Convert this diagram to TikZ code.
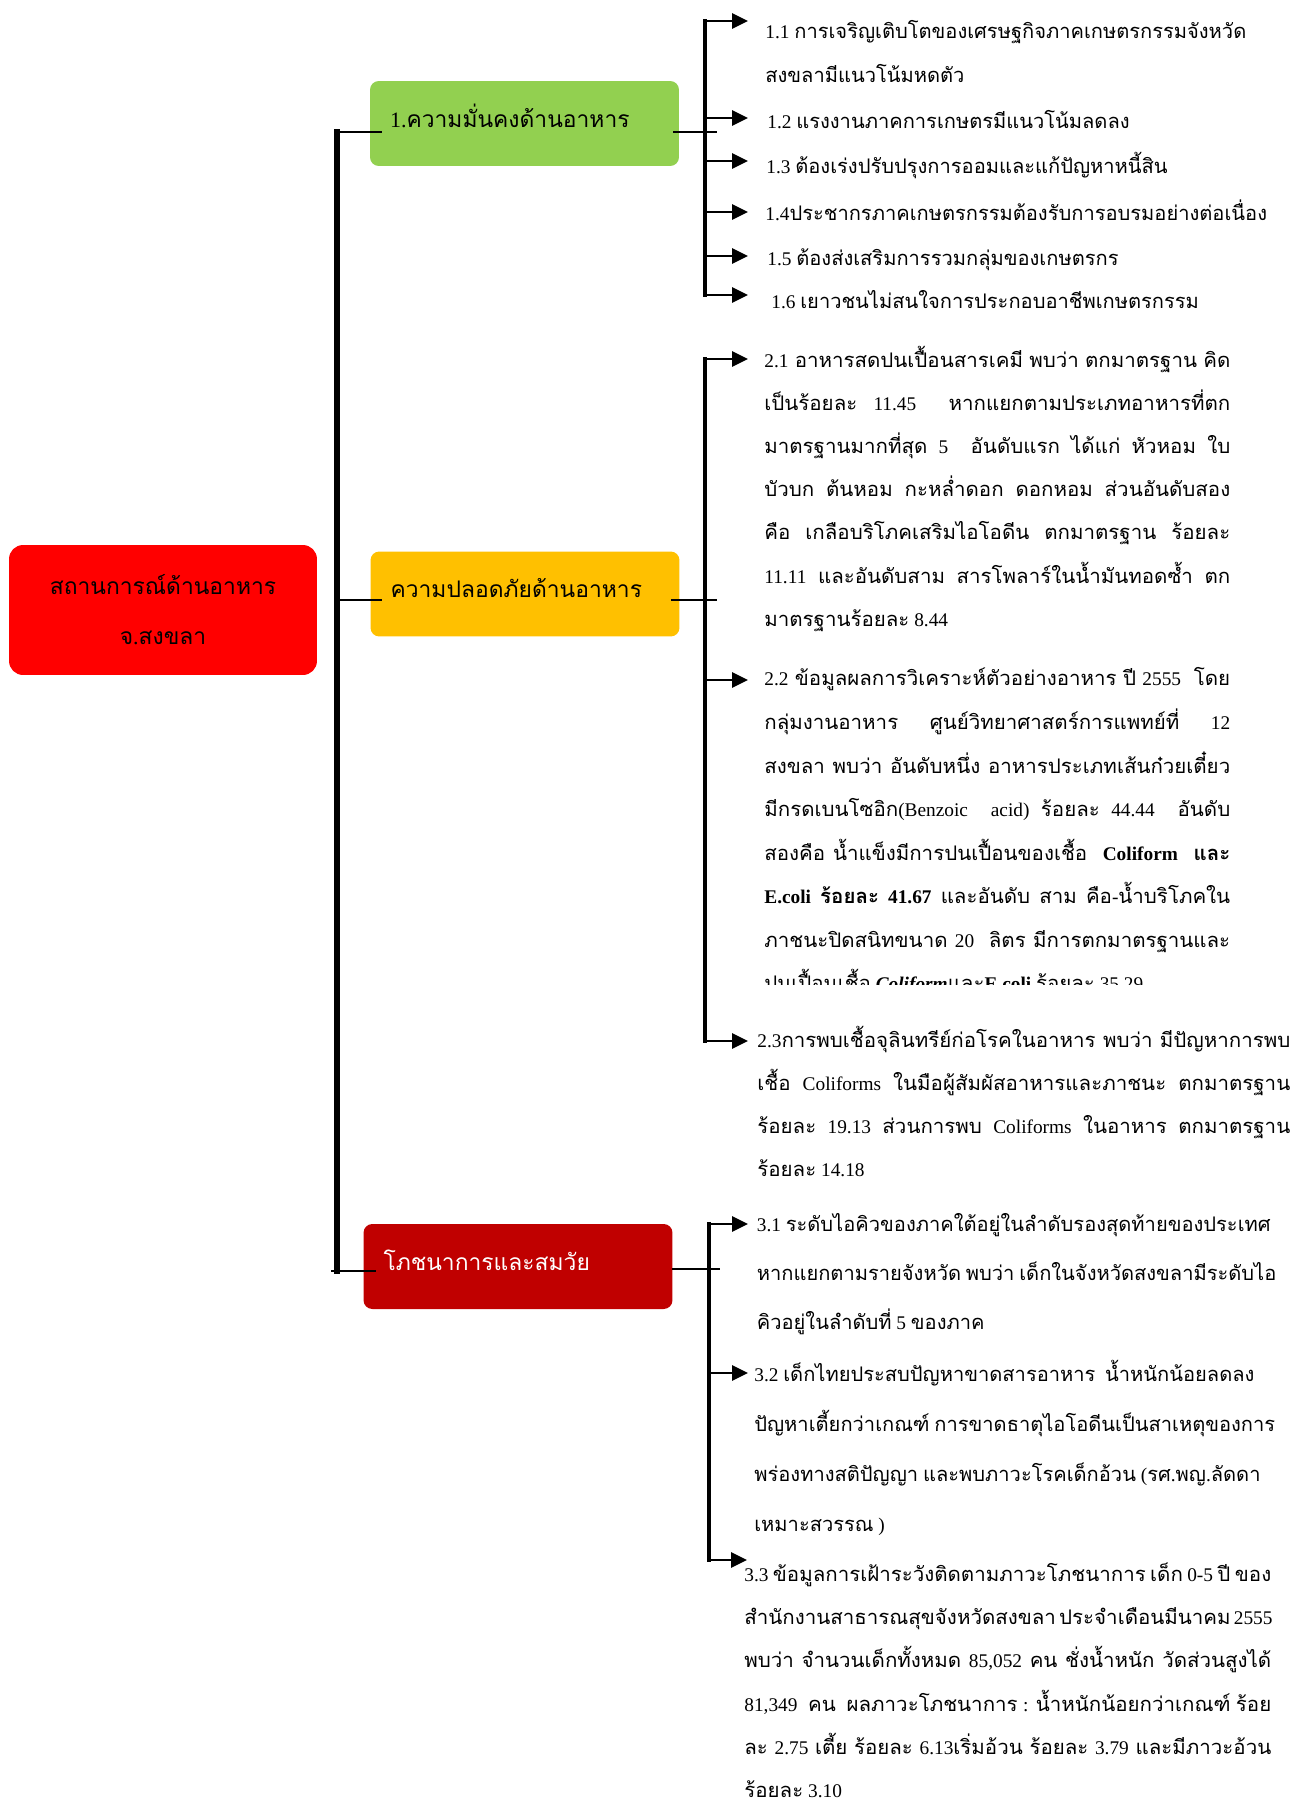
\documentclass[tikz,border=0pt]{standalone}
\usepackage{fontspec}
\setmainfont{Liberation Serif}
\newfontfamily\thaifont[Script=Thai, Scale=1.04]{Loma}
\newfontfamily\thaiwide[Script=Thai, Scale=1.04, FakeStretch=1.02]{Loma}
\newcommand{\thaisel}{\thaifont}
\usetikzlibrary{arrows.meta, calc}
\definecolor{secgreen}{HTML}{92D050}
\definecolor{secyellow}{HTML}{FFC000}
\definecolor{rootred}{HTML}{FF0000}
\definecolor{secred}{HTML}{C00000}

% Thai letters in Loma, the rest in Liberation Serif
\XeTeXinterchartokenstate=1
\ifdefined\newXeTeXintercharclass
  \newXeTeXintercharclass\thclass
\else
  \chardef\thclass=10
\fi
\newcount\thcnt
\thcnt="0E00
\loop
  \XeTeXcharclass\thcnt=\thclass
  \ifnum\thcnt<"0E7F \advance\thcnt by 1 \repeat
\XeTeXinterchartoks 0 \thclass = {\thaisel}
\XeTeXinterchartoks 4095 \thclass = {\thaisel}
\XeTeXinterchartoks \thclass 0 = {\rmfamily}
\XeTeXinterchartoks \thclass 4095 = {\rmfamily}

\newlength\jw
\newcommand{\jl}[1]{\makebox[\jw][s]{#1}}
\newcommand{\leaffont}{\fontsize{11pt}{24.6pt}\selectfont}

\begin{document}
\begin{tikzpicture}[x=0.02cm, y=-0.02cm,
  >={Triangle[length=9pt, width=8.5pt]},
  box/.style={rounded corners=5pt, minimum height=1.7cm, text width=5.38cm,
    inner xsep=0.4cm, inner ysep=0pt, text height=10pt, text depth=5.5pt,
    align=left, font=\fontsize{12.5pt}{16pt}\selectfont},
  rootbox/.style={fill=rootred, rounded corners=8pt, minimum width=6.16cm,
    minimum height=2.6cm, align=center, font=\fontsize{12.5pt}{28.5pt}\selectfont},
  leaf/.style={anchor=north west, inner sep=0pt, align=left, font=\leaffont,
    execute at begin node={\rule{0pt}{14pt}}},
  jwidth/.code={\setlength\jw{#1}\let\thaisel\thaiwide},
  trunk/.style={line width=3pt, line cap=rect},
  sub/.style={line width=2.4pt, line cap=rect},
  stub/.style={line width=1.1pt},
  arr/.style={->, line width=1.4pt}
]
\useasboundingbox (0,0) rectangle (1295,1798);

\node[rootbox] (root) at (163,610) {สถานการณ์ด้านอาหาร\\จ.สงขลา};
\node[box, fill=secgreen] (sec1) at (524.5,123.5) {1.ความมั่นคงด้านอาหาร};
\node[box, fill=secyellow] (sec2) at (525,594) {ความปลอดภัยด้านอาหาร};
\node[box, fill=secred, text=white] (sec3) at (518,1266.5) {โภชนาการและสมวัย};

\coordinate (m1) at (337,132);
\coordinate (m2) at (337,600);
\coordinate (m3) at (337,1271);
\coordinate (j1) at (717,132);
\coordinate (j2) at (717,600);
\coordinate (j3) at (720,1269);

\draw[trunk] (m1) -- (m3);
\draw[stub] (m1) -- ($(m1 -| sec1.west)+(12,0)$);
\draw[stub] ($(m1 -| sec1.east)+(-6,0)$) -- (j1);
\draw[stub] (m2) -- ($(m2 -| sec2.west)+(12,0)$);
\draw[stub] ($(m2 -| sec2.east)+(-9,0)$) -- (j2);
\draw[stub] ($(m3)+(-6,0)$) -- ($(m3 -| sec3.west)+(13,0)$);
\draw[stub] ($(j3 -| sec3.east)+(-1,0)$) -- (j3);

\foreach \n/\y in {11/21, 12/118, 13/161, 14/212, 15/256, 16/295} {
  \coordinate (s\n) at (705,\y);
  \coordinate (e\n) at (748,\y);
  \draw[arr] (s\n) -- (e\n);
}
\foreach \n/\y in {21/359, 22/680, 23/1041} {
  \coordinate (s\n) at (705,\y);
  \coordinate (e\n) at (748,\y);
  \draw[arr] (s\n) -- (e\n);
}
\foreach \n/\y/\x in {31/1224/748, 32/1373/748, 33/1560/747} {
  \coordinate (s\n) at (709,\y);
  \coordinate (e\n) at (\x,\y);
  \draw[arr] (s\n) -- (e\n);
}
\draw[sub] (s11) -- (s16);
\draw[sub] (s21) -- (s23);
\draw[sub] (s31) -- (s33);

\node[leaf] (t11) at (765,20.4) {1.1 การเจริญเติบโตของเศรษฐกิจภาคเกษตรกรรมจังหวัด\\สงขลามีแนวโน้มหดตัว};
\node[leaf] (t12) at (767,103.4) {1.2 แรงงานภาคการเกษตรมีแนวโน้มลดลง};
\node[leaf] (t13) at (766,148.4) {1.3 ต้องเร่งปรับปรุงการออมและแก้ปัญหาหนี้สิน};
\node[leaf] (t14) at (765,195.4) {1.4ประชากรภาคเกษตรกรรมต้องรับการอบรมอย่างต่อเนื่อง};
\node[leaf] (t15) at (767,240.4) {1.5 ต้องส่งเสริมการรวมกลุ่มของเกษตรกร};
\node[leaf] (t16) at (771,283.4) {1.6 เยาวชนไม่สนใจการประกอบอาชีพเกษตรกรรม};

\node[leaf, jwidth=9.32cm] (t21) at (764,345.4) {%
\jl{2.1 อาหารสดปนเปื้อนสารเคมี พบว่า ตกมาตรฐาน คิด}\\
\jl{เป็นร้อยละ 11.45 \ หากแยกตามประเภทอาหารที่ตก}\\
\jl{มาตรฐานมากที่สุด 5 \ อันดับแรก ได้แก่ หัวหอม ใบ}\\
\jl{บัวบก ต้นหอม กะหล่ำดอก ดอกหอม ส่วนอันดับสอง}\\
\jl{คือ เกลือบริโภคเสริมไอโอดีน ตกมาตรฐาน ร้อยละ}\\
\jl{11.11 และอันดับสาม สารโพลาร์ในน้ำมันทอดซ้ำ ตก}\\
มาตรฐานร้อยละ 8.44};

\begin{scope}
\clip (700,640) rectangle (1295,984);
\node[leaf, jwidth=9.32cm, font=\fontsize{11pt}{24.8pt}\selectfont] (t22) at (764,667.4) {%
\jl{2.2 ข้อมูลผลการวิเคราะห์ตัวอย่างอาหาร ปี 2555 \ โดย}\\
\jl{กลุ่มงานอาหาร ศูนย์วิทยาศาสตร์การแพทย์ที่ 12}\\
\jl{สงขลา พบว่า อันดับหนึ่ง อาหารประเภทเส้นก๋วยเตี๋ยว}\\
\jl{มีกรดเบนโซอิก(Benzoic \ acid) ร้อยละ 44.44 \ อันดับ}\\
\jl{สองคือ น้ำแข็งมีการปนเปื้อนของเชื้อ \ \textbf{Coliform \ และ}}\\
\jl{\textbf{E.coli ร้อยละ 41.67} และอันดับ สาม คือ-น้ำบริโภคใน}\\
\jl{ภาชนะปิดสนิทขนาด 20 \ ลิตร มีการตกมาตรฐานและ}\\
ปนเปื้อนเชื้อ \textbf{\textit{Coliform}}และ\textbf{E.coli} ร้อยละ 35.29};
\end{scope}

\node[leaf, jwidth=10.66cm] (t23) at (757,1025.4) {%
\jl{2.3การพบเชื้อจุลินทรีย์ก่อโรคในอาหาร พบว่า มีปัญหาการพบ}\\
\jl{เชื้อ Coliforms ในมือผู้สัมผัสอาหารและภาชนะ ตกมาตรฐาน}\\
\jl{ร้อยละ 19.13 ส่วนการพบ Coliforms ในอาหาร ตกมาตรฐาน}\\
ร้อยละ 14.18};

\node[leaf, font=\fontsize{11pt}{27.9pt}\selectfont] (t31) at (756.5,1213.4) {%
3.1 ระดับไอคิวของภาคใต้อยู่ในลำดับรองสุดท้ายของประเทศ\\
หากแยกตามรายจังหวัด พบว่า เด็กในจังหวัดสงขลามีระดับไอ\\
คิวอยู่ในลำดับที่ 5 ของภาค};

\node[leaf, font=\fontsize{11pt}{28.5pt}\selectfont] (t32) at (754,1359.4) {%
3.2 เด็กไทยประสบปัญหาขาดสารอาหาร \ น้ำหนักน้อยลดลง\\
ปัญหาเตี้ยกว่าเกณฑ์ การขาดธาตุไอโอดีนเป็นสาเหตุของการ\\
พร่องทางสติปัญญา และพบภาวะโรคเด็กอ้วน (รศ.พญ.ลัดดา\\
เหมาะสวรรณ )};

\node[leaf, jwidth=10.54cm] (t33) at (744,1562.4) {%
\jl{3.3 ข้อมูลการเฝ้าระวังติดตามภาวะโภชนาการ เด็ก 0-5 ปี ของ}\\
\jl{สำนักงานสาธารณสุขจังหวัดสงขลา ประจำเดือนมีนาคม 2555}\\
\jl{พบว่า จำนวนเด็กทั้งหมด 85,052 คน ชั่งน้ำหนัก วัดส่วนสูงได้}\\
\jl{81,349 \ คน \ ผลภาวะโภชนาการ : น้ำหนักน้อยกว่าเกณฑ์ ร้อย}\\
\jl{ละ 2.75 เตี้ย ร้อยละ 6.13เริ่มอ้วน ร้อยละ 3.79 และมีภาวะอ้วน}\\
ร้อยละ 3.10};
\end{tikzpicture}
\end{document}
